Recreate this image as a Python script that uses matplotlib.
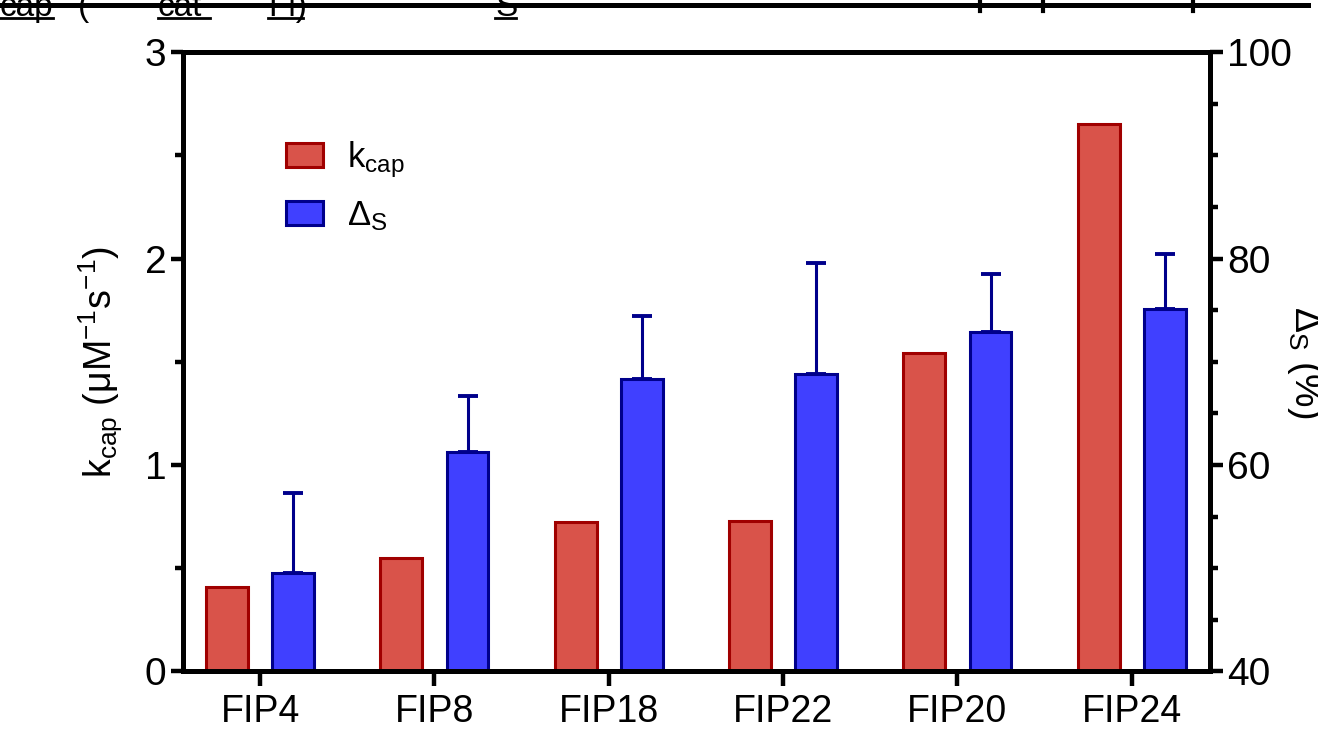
import numpy as np
import matplotlib
matplotlib.use('Agg')
import matplotlib.pyplot as plt
from matplotlib.ticker import MultipleLocator

plt.rcParams['font.family'] = ['Liberation Sans', 'DejaVu Sans']
plt.rcParams['mathtext.default'] = 'regular'

# datos
categorias = ["FIP4", "FIP8", "FIP18", "FIP22", "FIP20", "FIP24"]
kcap = [0.41, 0.55, 0.725, 0.73, 1.54, 2.65]
delta_s = [49.5, 61.3, 68.3, 68.8, 72.9, 75.1]
delta_s_err = [7.8, 5.4, 6.1, 10.8, 5.6, 5.3]

rojo = "#D9534A"
rojo_borde = "#A00000"
azul = "#4040FF"
azul_borde = "#00008B"

fig = plt.figure(figsize=(13.18, 7.37), dpi=100)
ax = fig.add_axes([0.1389, 0.0889, 0.7793, 0.8405])
ax2 = ax.twinx()

x = np.arange(len(categorias))
ancho = 0.24
sep = 0.19

b1 = ax.bar(x - sep, kcap, ancho, color=rojo, edgecolor=rojo_borde, linewidth=2.2,
            label=r"k$_{cap}$")
b2 = ax2.bar(x + sep, delta_s, ancho, color=azul, edgecolor=azul_borde, linewidth=2.2,
             label=r"$\Delta_S$",
             yerr=[np.zeros(len(delta_s_err)), delta_s_err],
             error_kw=dict(ecolor=azul_borde, elinewidth=2.2, capsize=7, capthick=2.8))

ax.set_xlim(-0.442, 5.45)
ax.set_ylim(0, 3)
ax2.set_ylim(40, 100)

ax.set_xticks(x, categorias)
ax.yaxis.set_major_locator(MultipleLocator(1))
ax.yaxis.set_minor_locator(MultipleLocator(0.5))
ax2.yaxis.set_major_locator(MultipleLocator(20))
ax2.yaxis.set_minor_locator(MultipleLocator(5))

for a in (ax, ax2):
    for s in a.spines.values():
        s.set_linewidth(3.6)
    a.tick_params(axis='both', which='major', direction='out', length=9, width=3.2,
                  labelsize=28, pad=3)
    a.tick_params(axis='both', which='minor', direction='out', length=5.5, width=3.2)
ax.tick_params(axis='x', length=11, pad=5, labelsize=27)

ax.set_ylabel(r"k$_{cap}$ (μM$^{-1}$s$^{-1}$)", fontsize=27, labelpad=14)
ax2.set_ylabel(r"$\Delta_S$ (%)", fontsize=27, rotation=270, labelpad=24)

ax2.legend([b1, b2], [r"k$_{cap}$", r"$\Delta_S$"], loc='upper left',
           bbox_to_anchor=(0.07, 0.91), frameon=False, fontsize=25,
           handlelength=1.05, handleheight=0.7, labelspacing=0.55, handletextpad=0.7)

# restos de la tabla de arriba (recortada)
W, H = 1318, 737
for texto, xp in [("cap", 0), ("(", 78), ("cat", 158), ("Fl)", 268), ("S", 495)]:
    fig.text(xp / W, 1 - 16 / H, texto, fontsize=24, va='baseline', ha='left')
for x0, x1 in [(0, 53), (158, 210), (268, 303), (495, 516)]:
    fig.add_artist(plt.Line2D([x0 / W, x1 / W], [1 - 18 / H] * 2, color='black', lw=2))
fig.add_artist(plt.Line2D([0, 1308 / W], [1 - 5 / H] * 2, color='black', lw=3.6, zorder=5))
for xt in [980, 1043, 1193]:
    fig.add_artist(plt.Line2D([xt / W] * 2, [1, 1 - 11 / H], color='black', lw=3))

fig.savefig("out.png", dpi=100)
plt.close(fig)
